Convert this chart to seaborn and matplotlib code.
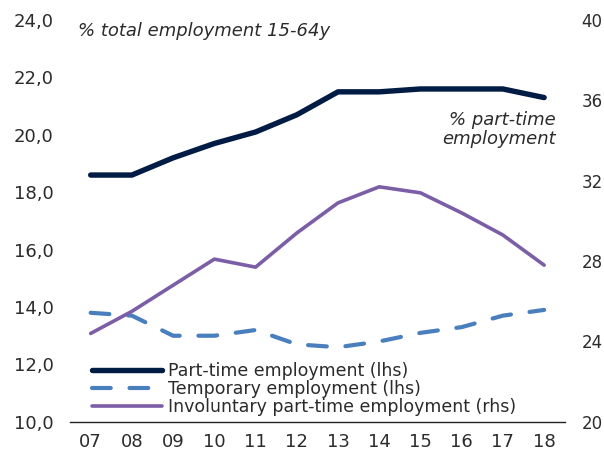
import numpy as np
import pandas as pd
import seaborn as sns
import matplotlib.pyplot as plt

years = ["07", "08", "09", "10", "11", "12", "13", "14", "15", "16", "17", "18"]
part_time = [18.6, 18.6, 19.2, 19.7, 20.1, 20.7, 21.5, 21.5, 21.6, 21.6, 21.6, 21.3]
temporary = [13.8, 13.7, 13.0, 13.0, 13.2, 12.7, 12.6, 12.8, 13.1, 13.3, 13.7, 13.9]
involuntary = [24.4, 25.5, 26.8, 28.1, 27.7, 29.4, 30.9, 31.7, 31.4, 30.4, 29.3, 27.8]

navy = "#001c44"
blue = "#4a7fbd"
purple = "#7b5ea6"
text_col = "#2b2b2b"

df = pd.DataFrame({"pos": np.arange(len(years)), "pt": part_time,
                   "tmp": temporary, "inv": involuntary})

sns.set_style("white")
plt.rcParams["font.family"] = ["DejaVu Sans"]

fig = plt.figure(figsize=(6.04, 4.57), dpi=100)
ax = fig.add_axes([0.116, 0.077, 0.819, 0.879])
ax2 = ax.twinx()

sns.lineplot(data=df, x="pos", y="pt", ax=ax, color=navy, lw=3.9,
             label="Part-time employment (lhs)", legend=False,
             solid_capstyle="round")
sns.lineplot(data=df, x="pos", y="tmp", ax=ax, color=blue, lw=3.0,
             label="Temporary employment (lhs)", legend=False,
             dashes=False, dash_capstyle="round")
ax.lines[-1].set_dashes([4.5, 4.5])
sns.lineplot(data=df, x="pos", y="inv", ax=ax2, color=purple, lw=2.6,
             label="Involuntary part-time employment (rhs)", legend=False,
             solid_capstyle="round")

ax.set_xlim(-0.5, len(years) - 0.5)
ax.set_ylim(10, 24)
ax2.set_ylim(20, 40)
ax.set_xticks(np.arange(len(years)))
ax.set_xticklabels(years)
lticks = np.arange(10, 24.1, 2)
ax.set_yticks(lticks)
ax.set_yticklabels([f"{t:.1f}".replace(".", ",") for t in lticks])
rticks = np.arange(20, 40.1, 4)
ax2.set_yticks(rticks)
ax2.set_yticklabels([f"{int(t)}" for t in rticks])

for a in (ax, ax2):
    a.set_xlabel("")
    a.set_ylabel("")
    a.grid(False)
    for s in a.spines.values():
        s.set_visible(False)
    a.tick_params(length=0, labelsize=13, colors=text_col)
ax.spines["bottom"].set_visible(True)
ax.spines["bottom"].set_color("#222222")
ax.spines["bottom"].set_linewidth(1.0)
ax.tick_params(axis="y", pad=12)
ax.tick_params(axis="x", pad=8)
# right labels are tight against the edge, keep them inside
ax2.tick_params(axis="y", pad=12, labelsize=12)

ax.text(0.016, 0.972, "% total employment 15-64y", transform=ax.transAxes,
        style="italic", fontsize=13, color=text_col, va="center", ha="left")
ax.text(0.982, 0.727, "% part-time\nemployment", transform=ax.transAxes,
        style="italic", fontsize=13, color=text_col, va="center", ha="right",
        linespacing=1.1)

h1, l1 = ax.get_legend_handles_labels()
h2, l2 = ax2.get_legend_handles_labels()
ax2.legend(h1 + h2, l1 + l2, loc="lower left", bbox_to_anchor=(0.045, 0.014),
           frameon=False, fontsize=12.5, handlelength=4.0, handletextpad=0.35,
           labelspacing=0.0, borderpad=0, borderaxespad=0,
           labelcolor=text_col)

fig.savefig("out.png", dpi=100)
